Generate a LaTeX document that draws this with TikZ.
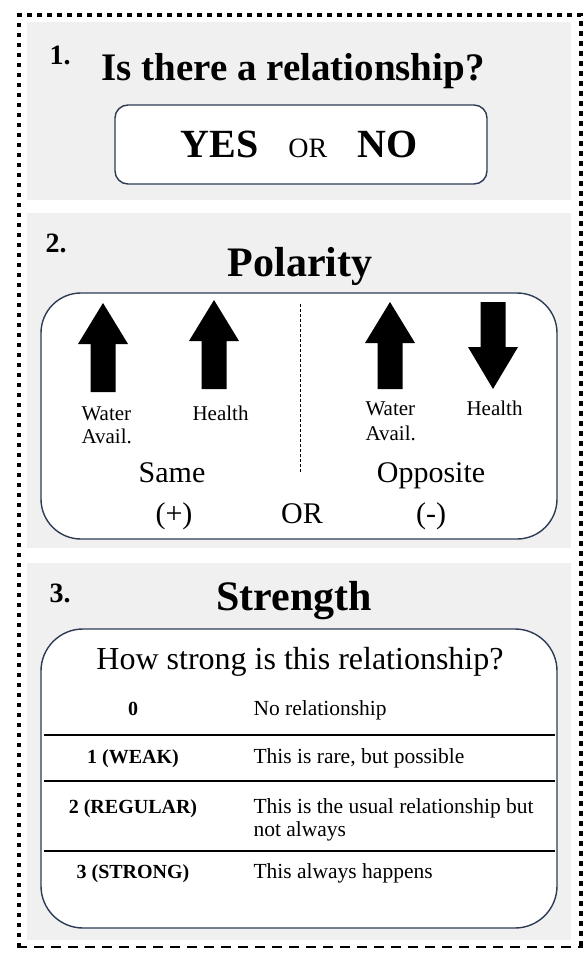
\documentclass[tikz,border=0pt]{standalone}
\usepackage{fontspec}
\setmainfont{Liberation Serif}
\definecolor{panelgrey}{HTML}{F0F0F0}
\definecolor{boxline}{HTML}{2E3B55}
\begin{document}
\begin{tikzpicture}[x=1pt,y=-1pt,
  panel/.style={fill=panelgrey,draw=none},
  card/.style={draw=boxline,line width=1.4pt,fill=white},
  num/.style={font=\fontsize{28}{30}\selectfont\bfseries},
  heading/.style={font=\fontsize{42}{44}\selectfont\bfseries},
  small/.style={font=\fontsize{21}{23}\selectfont,align=left},
  mid/.style={font=\fontsize{30}{32}\selectfont},
  lvl/.style={font=\fontsize{20}{22}\selectfont\bfseries},
  desc/.style={font=\fontsize{21.5}{22}\selectfont,anchor=west,align=left},
  rule/.style={line width=1.6pt},
  bigarrow/.style={fill=black,draw=none}]
\useasboundingbox (0,0) rectangle (584,953);
\fill[white] (0,0) rectangle (584,953);

% outer frame: square dots on three sides, dashes along the bottom
\draw[line width=4.5pt,dash pattern=on 4.5pt off 5.5pt]
  (19,947) -- (19,15) -- (581,15) -- (581,947);
\draw[line width=1.5pt,dash pattern=on 10pt off 7pt] (17,947) -- (583,947);

% ---------- section 1 ----------
\fill[panel] (27,22) rectangle (571,200);
\node[num,anchor=base west] (n1) at (46,64) {1.};
\node[font=\fontsize{39}{40}\selectfont\bfseries,anchor=base] (t1) at (293,80) {Is there a relationship?};
\draw[card,rounded corners=13pt] (115,105) rectangle (487,184);
\node[anchor=base] (yn) at (299,157) {\fontsize{40}{42}\selectfont\bfseries YES\hspace{30pt}\fontsize{28}{30}\mdseries OR\hspace{30pt}\fontsize{40}{42}\bfseries NO};

% ---------- section 2 ----------
\fill[panel] (27,213) rectangle (571,548);
\node[num,anchor=base west] (n2) at (42,252) {2.};
\node[heading,anchor=base] (t2) at (300,276) {Polarity};
\draw[card,rounded corners=40pt] (41,293) rectangle (557,539);
\draw[dash pattern=on 3pt off 2pt,line width=0.8pt] (300,304) -- (300,473);

% arrows: three pointing up, one pointing down
\foreach \cx/\tp/\bt in {103/303/392, 214/300/389, 390/302/389}{
  \fill[bigarrow] (\cx,\tp) -- (\cx+25,\tp+41) -- (\cx+12.5,\tp+41) -- (\cx+12.5,\bt)
     -- (\cx-12.5,\bt) -- (\cx-12.5,\tp+41) -- (\cx-25,\tp+41) -- cycle;}
\fill[bigarrow] (493,389) -- (518,347) -- (505.5,347) -- (505.5,302) -- (480.5,302)
   -- (480.5,347) -- (468,347) -- cycle;

\node[small,anchor=base west] (wa1) at (78,420) {Water};
\node[small,anchor=base west] (wb1) at (78,443) {Avail.};
\node[small,anchor=base west] (h1) at (189,420) {Health};
\node[small,anchor=base west] (wa2) at (362,415) {Water};
\node[small,anchor=base west] (wb2) at (362,440) {Avail.};
\node[small,anchor=base west] (h2) at (463,415) {Health};

\node[mid,anchor=base] (same) at (172,482) {Same};
\node[mid,anchor=base] (opp) at (431,482) {Opposite};
\node[mid,anchor=base] (plus) at (174,523) {(+)};
\node[mid,anchor=base] (or2) at (302,523) {OR};
\node[mid,anchor=base] (minus) at (431,523) {(-)};

% ---------- section 3 ----------
\fill[panel] (27,563) rectangle (571,940);
\node[num,anchor=base west] (n3) at (46,602) {3.};
\node[heading,anchor=base] (t3) at (294,610) {Strength};
\draw[card,rounded corners=42pt] (41,629) rectangle (557,928);
\node[font=\fontsize{32}{34}\selectfont,anchor=base] (q) at (300,669) {How strong is this relationship?};

\node[lvl,anchor=base] (l0) at (133,715) {0};
\node[desc,anchor=base west] (d0) at (250,715) {No relationship};
\draw[rule] (44,735) -- (555,735);
\node[lvl,anchor=base] (l1) at (133,763) {1 (WEAK)};
\node[desc,anchor=base west] (d1) at (250,763) {This is rare, but possible};
\draw[rule] (44,781) -- (555,781);
\node[lvl,anchor=base] (l2) at (133,813) {2 (REGULAR)};
\node[desc,anchor=base west] (d2) at (250,813) {This is the usual relationship but};
\node[desc,anchor=base west] (d2b) at (250,836) {not always};
\draw[rule] (44,851) -- (555,851);
\node[lvl,anchor=base] (l3) at (133,878) {3 (STRONG)};
\node[desc,anchor=base west] (d3) at (250,878) {This always happens};
\end{tikzpicture}
\end{document}
